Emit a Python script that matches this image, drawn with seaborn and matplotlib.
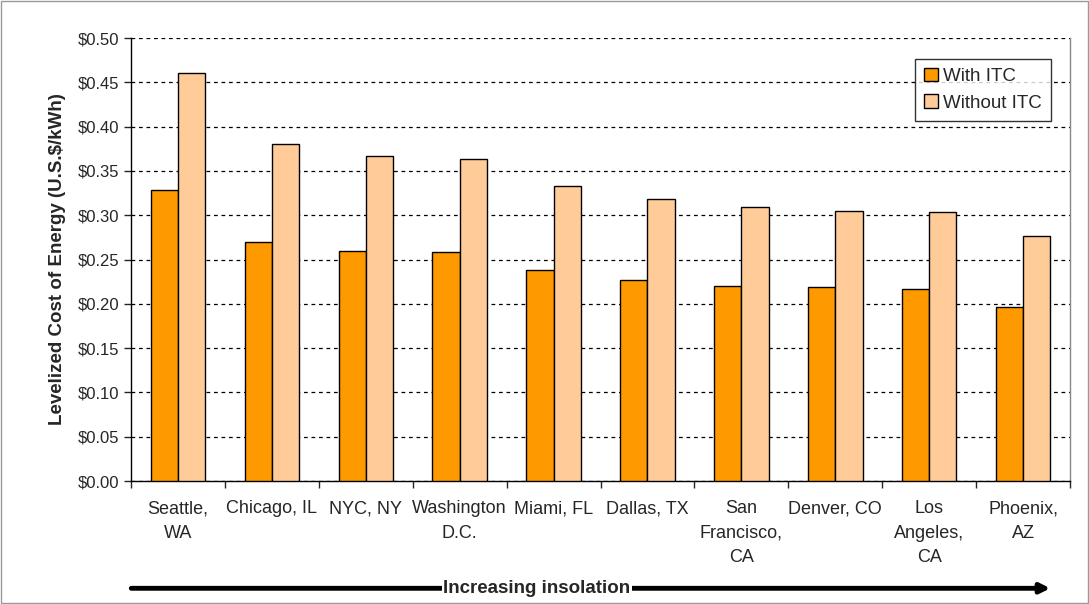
import numpy as np
import pandas as pd
import matplotlib
matplotlib.use("Agg")
import matplotlib.pyplot as plt
from matplotlib.patches import Rectangle
from matplotlib.ticker import FuncFormatter, FixedLocator
import seaborn as sns

# Data
cities = ["Seattle,\nWA", "Chicago, IL", "NYC, NY", "Washington\nD.C.", "Miami, FL",
          "Dallas, TX", "San\nFrancisco,\nCA", "Denver, CO", "Los\nAngeles,\nCA", "Phoenix,\nAZ"]
with_itc = [0.328, 0.270, 0.260, 0.259, 0.238, 0.227, 0.220, 0.219, 0.217, 0.196]
without_itc = [0.460, 0.380, 0.367, 0.363, 0.333, 0.318, 0.309, 0.305, 0.304, 0.277]
series = ["With ITC", "Without ITC"]
colors = ["#FF9900", "#FFCC99"]

df = pd.DataFrame({
    "city": cities * 2,
    "cost": with_itc + without_itc,
    "series": [series[0]] * len(cities) + [series[1]] * len(cities),
})

sns.set_style("white")
plt.rcParams["font.family"] = ["Liberation Sans", "DejaVu Sans"]

fig = plt.figure(figsize=(10.89, 6.04), dpi=100)
ax = fig.add_axes([0.1203, 0.2036, 0.8623, 0.7334])

sns.barplot(data=df, x="city", y="cost", hue="series", palette=colors, width=0.58,
            edgecolor="black", linewidth=1.0, saturation=1, ax=ax, zorder=3)

ax.set_ylim(0, 0.5)
ax.set_xlim(-0.5, len(cities) - 0.5)
ax.set_yticks(np.arange(0, 0.501, 0.05))
ax.yaxis.set_major_formatter(FuncFormatter(lambda v, p: f"${v:.2f}"))
ax.grid(axis="y", color="black", linestyle=(0, (3, 3)), linewidth=0.9, zorder=0)
ax.set_axisbelow(True)

# x ticks at category boundaries
ax.xaxis.set_minor_locator(FixedLocator(np.arange(-0.5, len(cities), 1.0)))
ax.tick_params(axis="x", which="major", length=0, pad=14, labelsize=13)
ax.tick_params(axis="x", which="minor", length=5, width=1, direction="out", bottom=True)
ax.tick_params(axis="y", which="major", length=5, width=1, direction="out", left=True,
               labelsize=12)
for lbl in ax.get_xticklabels():
    lbl.set_linespacing(1.55)

for side in ["top", "right", "left", "bottom"]:
    ax.spines[side].set_color("black")
    ax.spines[side].set_linewidth(1.0)
ax.spines["top"].set_visible(False)
ax.spines["right"].set_color("#888888")

ax.set_xlabel("")
ax.set_ylabel("Levelized Cost of Energy (U.S.$/kWh)", fontsize=13.5, fontweight="bold",
              labelpad=8)

leg = ax.legend(loc="upper right", bbox_to_anchor=(0.99, 0.975), fontsize=13.5,
                frameon=True, fancybox=False, edgecolor="black", handlelength=0.7,
                handleheight=0.7, handletextpad=0.3, borderpad=0.5, labelspacing=0.5)
leg.get_frame().set_linewidth(1.0)
for h in leg.legend_handles:
    h.set_edgecolor("black")

# Increasing insolation arrow
fig.text(0.493, 0.026, "Increasing insolation", ha="center", va="center",
         fontsize=13.5, fontweight="bold",
         bbox=dict(facecolor="white", edgecolor="none", pad=1))
ax.annotate("", xy=(0.967, 0.026), xytext=(0.118, 0.026), xycoords="figure fraction",
            arrowprops=dict(arrowstyle="-|>", color="black", lw=3.5, mutation_scale=14),
            zorder=1)

fig.patches.append(Rectangle((0.001, 0.001), 0.998, 0.998, transform=fig.transFigure,
                             fill=False, edgecolor="#999999", linewidth=1.0))

fig.savefig("out.png", dpi=100)
